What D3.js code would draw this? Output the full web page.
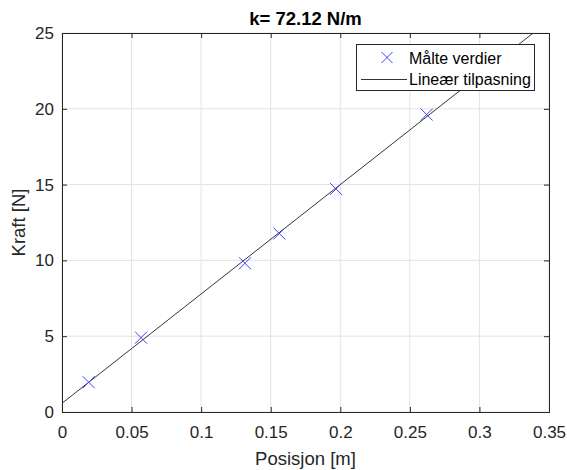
<!DOCTYPE html>
<html><head><meta charset="utf-8">
<script src="https://cdn.jsdelivr.net/npm/d3@7"></script>
<style>body{margin:0;background:#fff;} svg{display:block;font-family:"Liberation Sans",Arial,sans-serif;}</style>
</head><body>
<svg id="c" width="567" height="470"></svg>
<script>
const posisjon = [0.0192, 0.0568, 0.1315, 0.1562, 0.1969, 0.2621];
const kraft = [1.962, 4.905, 9.81, 11.772, 14.715, 19.62];
const k = 72.12;
const xTicks = [0, 0.05, 0.1, 0.15, 0.2, 0.25, 0.3, 0.35];
const yTicks = [0, 5, 10, 15, 20, 25];
const title = "k= 72.12 N/m";
const xLabel = "Posisjon [m]";
const yLabel = "Kraft [N]";
const legendLabels = ["Målte verdier", "Lineær tilpasning"];

const mx = d3.mean(posisjon), my = d3.mean(kraft);
const b = my - k * mx;

const svg = d3.select("#c");
const L = 62, R = 549, T = 33, B = 412;
const x = d3.scaleLinear().domain([0, 0.35]).range([L, R]);
const y = d3.scaleLinear().domain([0, 25]).range([B, T]);
const axisCol = "#262626";
const FONT = '"Liberation Sans",Arial,sans-serif';

// grid
const g = svg.append("g");
g.selectAll(".gx").data(xTicks).enter().append("line")
  .attr("x1", d => x(d)).attr("x2", d => x(d)).attr("y1", T).attr("y2", B)
  .attr("stroke", "#e3e3e3").attr("stroke-width", 1);
g.selectAll(".gy").data(yTicks).enter().append("line")
  .attr("y1", d => y(d)).attr("y2", d => y(d)).attr("x1", L).attr("x2", R)
  .attr("stroke", "#e3e3e3").attr("stroke-width", 1);

// clip
svg.append("clipPath").attr("id", "clip").append("rect")
  .attr("x", L).attr("y", T).attr("width", R - L).attr("height", B - T);

// fit line
const fitX = [0, 0.35];
svg.append("path").attr("clip-path", "url(#clip)")
  .attr("d", d3.line().x(d => x(d)).y(d => y(b + k * d))(fitX))
  .attr("stroke", "#000").attr("stroke-width", 0.8).attr("fill", "none");

// markers
const s = 6;
const pts = svg.append("g");
posisjon.forEach((px, i) => {
  const cx = x(px), cy = y(kraft[i]);
  pts.append("path")
    .attr("d", `M${cx - s},${cy - s}L${cx + s},${cy + s}M${cx - s},${cy + s}L${cx + s},${cy - s}`)
    .attr("stroke", "#4040ff").attr("stroke-width", 1).attr("fill", "none");
});

// axes
const ax = svg.append("g").attr("transform", `translate(0,${B})`)
  .call(d3.axisBottom(x).tickValues(xTicks).tickSize(-5).tickPadding(14).tickFormat(d => String(+d.toFixed(2))));
const ay = svg.append("g").attr("transform", `translate(${L},0)`)
  .call(d3.axisLeft(y).tickValues(yTicks).tickSize(-5).tickPadding(8));
const axT = svg.append("g").attr("transform", `translate(0,${T})`)
  .call(d3.axisTop(x).tickValues(xTicks).tickSize(-5).tickFormat(""));
const ayR = svg.append("g").attr("transform", `translate(${R},0)`)
  .call(d3.axisRight(y).tickValues(yTicks).tickSize(-5).tickFormat(""));
[ax, ay, axT, ayR].forEach(a => {
  a.select(".domain").attr("stroke", axisCol);
  a.selectAll(".tick line").attr("stroke", axisCol);
  a.selectAll("text").attr("fill", axisCol).style("font-size", "17px").style("font-family", FONT);
});

// title & labels
svg.append("text").attr("x", (L + R) / 2).attr("y", 25).attr("text-anchor", "middle")
  .style("font-size", "18.5px").style("font-weight", "bold").attr("fill", "#000").text(title);
svg.append("text").attr("x", (L + R) / 2).attr("y", 465).attr("text-anchor", "middle")
  .style("font-size", "18.5px").attr("fill", axisCol).text(xLabel);
svg.append("text").attr("transform", `translate(25,${(T + B) / 2}) rotate(-90)`).attr("text-anchor", "middle")
  .style("font-size", "18.5px").attr("fill", axisCol).text(yLabel);

// legend
const lg = svg.append("g");
lg.append("rect").attr("x", 356.5).attr("y", 44.5).attr("width", 178).attr("height", 46)
  .attr("fill", "#fff").attr("stroke", axisCol).attr("stroke-width", 1);
const lmx = 387, lmy = 57.5, ls = 5.5;
lg.append("path").attr("d", `M${lmx - ls},${lmy - ls}L${lmx + ls},${lmy + ls}M${lmx - ls},${lmy + ls}L${lmx + ls},${lmy - ls}`)
  .attr("stroke", "#4040ff").attr("stroke-width", 1);
lg.append("line").attr("x1", 361).attr("x2", 407).attr("y1", 79.5).attr("y2", 79.5)
  .attr("stroke", "#000").attr("stroke-width", 0.8);
lg.append("text").attr("x", 409).attr("y", 63.5).style("font-size", "16px").attr("fill", "#000").text(legendLabels[0]);
lg.append("text").attr("x", 409).attr("y", 85).style("font-size", "16px").attr("fill", "#000").text(legendLabels[1]);
</script>
</body></html>
